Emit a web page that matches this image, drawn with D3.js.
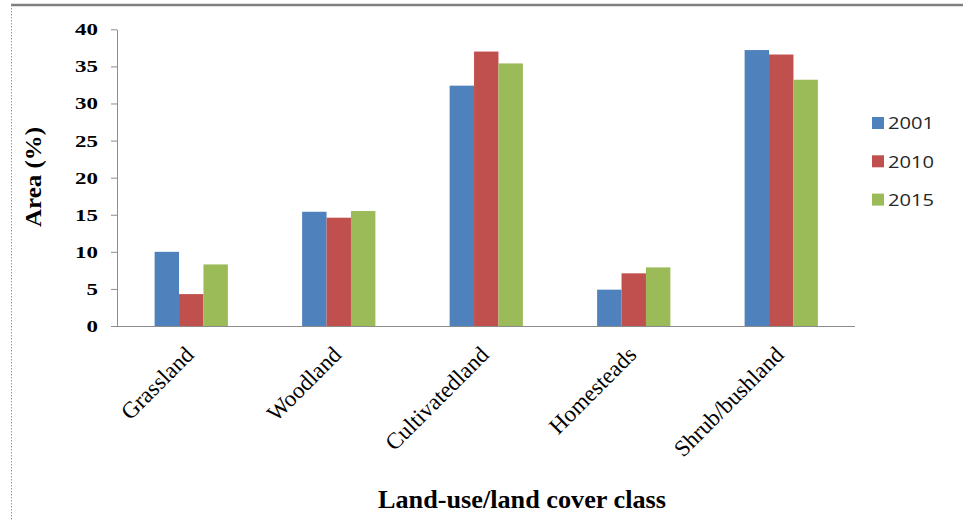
<!DOCTYPE html>
<html>
<head>
<meta charset="utf-8">
<script src="https://cdn.jsdelivr.net/npm/d3@7"></script>
<style>
  html, body { margin: 0; padding: 0; background: #fff; }
  svg { display: block; }
</style>
</head>
<body>
<svg id="chart" width="963" height="521"></svg>
<script>
// Land-use / land cover area shares by year
const categories = ["Grassland", "Woodland", "Cultivatedland", "Homesteads", "Shrub/bushland"];
const seriesNames = ["2001", "2010", "2015"];
const values2001 = [10.0, 15.4, 32.4, 4.9, 37.2];
const values2010 = [4.3, 14.6, 37.0, 7.1, 36.6];
const values2015 = [8.3, 15.5, 35.4, 7.9, 33.2];
const seriesColors = ["#4F81BD", "#C0504D", "#9BBB59"];
const yTicks = [0, 5, 10, 15, 20, 25, 30, 35, 40];
const yTitle = "Area (%)";
const xTitle = "Land-use/land cover class";

const seriesValues = [values2001, values2010, values2015];
const rows = categories.map((c, i) => ({
  category: c,
  values: seriesNames.map((s, j) => ({ series: s, value: seriesValues[j][i], color: seriesColors[j] }))
}));

const svg = d3.select("#chart");
const serif = "'Liberation Serif', 'Times New Roman', serif";
const axisColor = "#8c8c8c";

// Outer frame: top rule and dotted left edge
svg.append("line").attr("x1", 11).attr("x2", 963).attr("y1", 5).attr("y2", 5)
  .attr("stroke", "#7f7f7f").attr("stroke-width", 2.5);
svg.append("line").attr("x1", 11.5).attr("x2", 11.5).attr("y1", 5).attr("y2", 521)
  .attr("stroke", "#9a9a9a").attr("stroke-width", 1).attr("stroke-dasharray", "1.5,1.5");

// Scales
const x0 = d3.scaleBand().domain(categories).range([117.5, 855]).paddingInner(0).paddingOuter(0);
const x1 = d3.scaleBand().domain(seriesNames).range([0, x0.bandwidth()]).paddingInner(0).paddingOuter(1.52);
const y = d3.scaleLinear().domain([0, 40]).range([326, 29.3]);

// Bars
const groups = svg.append("g").selectAll("g").data(rows).join("g")
  .attr("transform", d => `translate(${x0(d.category)},0)`);
groups.selectAll("rect").data(d => d.values).join("rect")
  .attr("x", d => x1(d.series))
  .attr("width", x1.bandwidth())
  .attr("y", d => y(d.value))
  .attr("height", d => y(0) - y(d.value))
  .attr("fill", d => d.color);

// Y axis
const yAxis = svg.append("g").attr("transform", "translate(117,0)")
  .call(d3.axisLeft(y).tickValues(yTicks).tickSize(6).tickSizeOuter(0).tickPadding(13));
yAxis.select(".domain").attr("stroke", axisColor);
yAxis.selectAll(".tick line").attr("stroke", axisColor);
yAxis.selectAll(".tick text")
  .attr("fill", "#000")
  .style("font-family", serif).style("font-weight", "bold").style("font-size", "17px")
  .each(function () {
    const w = this.getComputedTextLength();
    d3.select(this).attr("textLength", w * 1.35).attr("lengthAdjust", "spacingAndGlyphs");
  });

// X axis
const xAxis = svg.append("g").attr("transform", "translate(0,326)")
  .call(d3.axisBottom(x0).tickSize(0).tickSizeOuter(0));
xAxis.select(".domain").attr("stroke", axisColor).attr("d", "M117,0.5H855");
xAxis.selectAll(".tick text")
  .attr("fill", "#000")
  .attr("x", 0).attr("y", 0).attr("dy", 0)
  .attr("text-anchor", "end")
  .attr("transform", "translate(4,30) rotate(-45)")
  .style("font-family", serif).style("font-size", "23px");

// Axis titles
svg.append("text")
  .attr("transform", "translate(41,177) rotate(-90)")
  .attr("text-anchor", "middle")
  .attr("textLength", 100).attr("lengthAdjust", "spacingAndGlyphs")
  .style("font-family", serif).style("font-weight", "bold").style("font-size", "23px")
  .text(yTitle);

svg.append("text")
  .attr("x", 522).attr("y", 508)
  .attr("text-anchor", "middle")
  .attr("textLength", 288).attr("lengthAdjust", "spacingAndGlyphs")
  .style("font-family", serif).style("font-weight", "bold").style("font-size", "25px")
  .text(xTitle);

// Legend
const legend = svg.append("g").selectAll("g").data(seriesNames).join("g")
  .attr("transform", (d, i) => `translate(872,${117 + i * 38.3})`);
legend.append("rect").attr("width", 12).attr("height", 12)
  .attr("fill", (d, i) => seriesColors[i]);
legend.append("text")
  .attr("x", 16).attr("y", 12.3)
  .attr("textLength", 46).attr("lengthAdjust", "spacingAndGlyphs")
  .style("font-family", "'Open Sans', sans-serif").style("font-size", "17px")
  .attr("fill", "#262626")
  .text(d => d);
</script>
</body>
</html>
